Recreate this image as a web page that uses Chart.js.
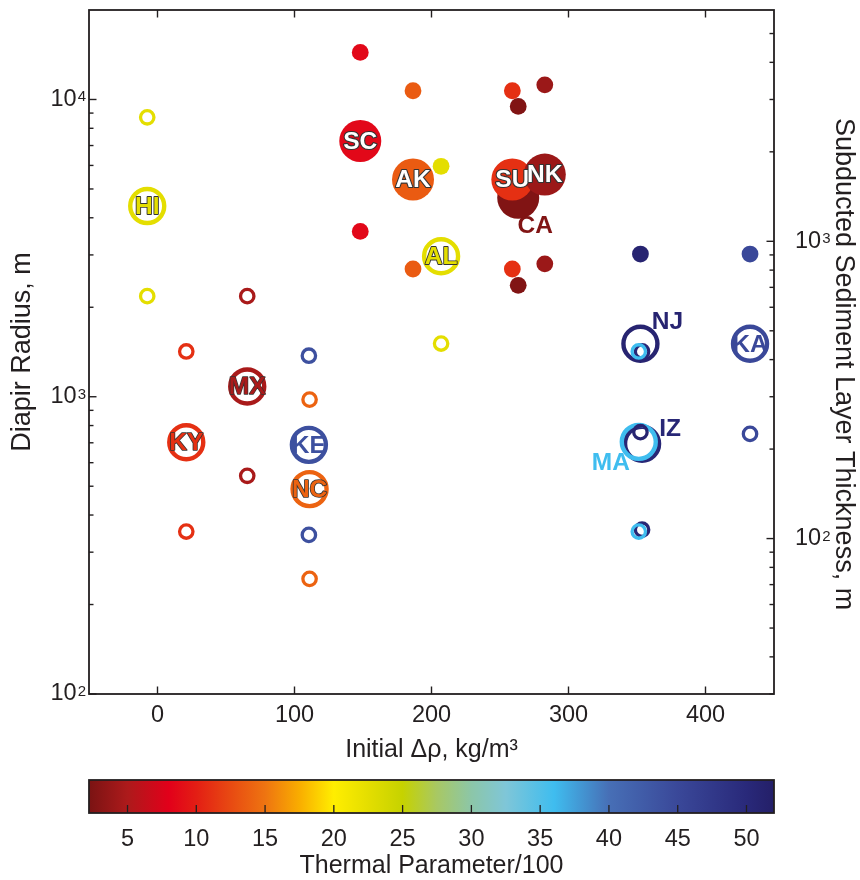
<!DOCTYPE html>
<html>
<head>
<meta charset="utf-8">
<script src="https://cdn.jsdelivr.net/npm/chart.js@4.4.1/dist/chart.umd.min.js"></script>
<style>
  html, body { margin: 0; padding: 0; background: #fff; overflow: hidden; }
  #wrap { position: relative; width: 860px; height: 880px; }
  #main { position: absolute; left: 0; top: 0; }
  #cbar { position: absolute; left: 0; top: 770px; }
</style>
</head>
<body>
<div id="wrap">
  <canvas id="main" width="860" height="770"></canvas>
  <canvas id="cbar" width="860" height="110"></canvas>
</div>
<script>
// subduction zones: initial density contrast, thermal parameter/100 and diapir radius (low / best / high)
const zones      = ['HI', 'KY', 'MX', 'KE', 'NC', 'AL', 'SC', 'AK', 'CA', 'SU', 'NK', 'NJ', 'IZ', 'MA', 'KA'];
const deltaRho   = [-7.5, 21, 65.5, 110.5, 111, 207, 148, 186.5, 263.3, 259, 282.7, 352.5, 353.7, 351.3, 432.5];
const thermal    = [22.5, 11, 4.8, 44, 14, 22.5, 8.5, 13.5, 2.6, 11, 4.0, 51, 50.5, 36, 45];
const radiusLow  = [2180, 352, 542, 343, 244, 1510, 3600, 2690, 2370, 2690, 2800, 760, 357, 352, 750];
const radiusMid  = [4380, 703, 1083, 689, 489, 2970, 7250, 5380, 4670, 5380, 5590, 1507, 695, 705, 1507];
const radiusHigh = [8710, 1420, 2180, 1374, 978, 5960, 14400, 10700, 9480, 10700, 11200, 3020, 1420, 1420, 3020];
const solidHigh  = [false, false, false, false, false, true, true, true, true, true, true, true, false, false, true];
const solidMid   = [false, false, false, false, false, false, true, true, true, true, true, false, false, false, false];

// axes
const xMin = -50, xMax = 450;
const xTicks = [0, 100, 200, 300, 400];
const radiusMin = 100, radiusMax = 20000;
const radiusTicks = [100, 1000, 10000];
const thickMin = 30, thickMax = 6000;
const thickTicks = [100, 1000];
const cbarMin = 2.2, cbarMax = 52;
const colorTicks = [5, 10, 15, 20, 25, 30, 35, 40, 45, 50];

const ink = '#231f20';
const FONT = '"Liberation Sans", Arial, Helvetica, sans-serif';

const cmapStops = [
  [2.2, '#7a1313'], [5, '#ad1a1b'], [8, '#e2001a'], [10, '#e31e14'], [12.5, '#e84a12'], [15, '#ee7411'],
  [17.5, '#f9ad00'], [20, '#ffee00'], [22.5, '#e4de00'], [25, '#c6d200'], [27.5, '#a8c864'], [30, '#8cc6a8'],
  [32.5, '#7fc6d8'], [36, '#3fbdef'], [40, '#476fb6'], [45, '#3a4899'], [50, '#29297a'], [52, '#241f68']
];

function hexRgb(h) {
  return [parseInt(h.slice(1, 3), 16), parseInt(h.slice(3, 5), 16), parseInt(h.slice(5, 7), 16)];
}

function colorFor(v) {
  if (v <= cmapStops[0][0]) return cmapStops[0][1];
  for (let i = 1; i < cmapStops.length; i++) {
    const [v1, c1] = cmapStops[i];
    if (v <= v1) {
      const [v0, c0] = cmapStops[i - 1];
      const t = (v - v0) / (v1 - v0);
      const a = hexRgb(c0), b = hexRgb(c1);
      const m = a.map((x, k) => Math.round(x + (b[k] - x) * t));
      return `rgb(${m[0]},${m[1]},${m[2]})`;
    }
  }
  return cmapStops[cmapStops.length - 1][1];
}

// build small (range) and large (best estimate) marker sets
const small = { data: [], bg: [], border: [], r: [], bw: [] };
const large = { data: [], bg: [], border: [], r: [], bw: [] };

zones.forEach((z, i) => {
  const col = colorFor(thermal[i]);
  [[radiusHigh[i], solidHigh[i]], [radiusLow[i], solidMid[i]]].forEach(([v, solid]) => {
    small.data.push({ x: deltaRho[i], y: v });
    small.bg.push(solid ? col : 'rgba(0,0,0,0)');
    small.border.push(col);
    small.r.push(solid ? 8.4 : 6.7);
    small.bw.push(solid ? 0 : 3.3);
  });
  large.data.push({ x: deltaRho[i], y: radiusMid[i] });
  large.bg.push(solidMid[i] ? col : 'rgba(0,0,0,0)');
  large.border.push(col);
  large.r.push(solidMid[i] ? 21 : 17);
  large.bw.push(solidMid[i] ? 0 : 4.4);
});

function markerSet(label, s) {
  return {
    label,
    data: s.data,
    showLine: false,
    pointStyle: 'circle',
    pointBackgroundColor: s.bg,
    pointBorderColor: s.border,
    pointRadius: s.r,
    pointHoverRadius: s.r,
    pointBorderWidth: s.bw,
    clip: false
  };
}

// label placement for zone names
const whiteText = ['SC', 'AK', 'SU', 'NK'];
const outlineWidth = { SC: 2.2, AK: 2.2, SU: 2.2, NK: 2.2, HI: 1.8, AL: 1.8, KY: 1.6, MX: 1.4, NC: 1.6 };
const labelOffset = { CA: [17, 27], NJ: [27, -23], IZ: [28, -15], MA: [-28, 20] };

const zoneLabels = {
  id: 'zoneLabels',
  afterDatasetsDraw(chart) {
    const { ctx, scales: { x, y } } = chart;
    ctx.save();
    ctx.font = `bold 24.5px ${FONT}`;
    ctx.textAlign = 'center';
    ctx.textBaseline = 'middle';
    ctx.lineJoin = 'round';
    zones.forEach((z, i) => {
      const off = labelOffset[z] || [0, 0];
      const px = x.getPixelForValue(deltaRho[i]) + off[0];
      const py = y.getPixelForValue(radiusMid[i]) + off[1] + 1;
      if (outlineWidth[z]) {
        ctx.lineWidth = outlineWidth[z];
        ctx.strokeStyle = '#333333';
        ctx.strokeText(z, px, py);
      }
      ctx.fillStyle = whiteText.includes(z) ? '#ffffff' : colorFor(thermal[i]);
      ctx.fillText(z, px, py);
    });
    ctx.restore();
  }
};

function logMarks(scale) {
  const out = [];
  const e0 = Math.floor(Math.log10(scale.min)), e1 = Math.ceil(Math.log10(scale.max));
  for (let e = e0; e <= e1; e++) {
    for (let k = 1; k <= 9; k++) {
      const v = k * Math.pow(10, e);
      if (v >= scale.min && v < scale.max) out.push({ v, major: k === 1 });
    }
  }
  return out;
}

function drawPow(ctx, exp, x, y, align) {
  ctx.font = `23.5px ${FONT}`;
  const wBase = ctx.measureText('10').width;
  ctx.font = `15px ${FONT}`;
  const wExp = ctx.measureText(String(exp)).width;
  const start = align === 'right' ? x - wBase - wExp - 1 : x;
  ctx.textAlign = 'left';
  ctx.textBaseline = 'middle';
  ctx.font = `23.5px ${FONT}`;
  ctx.fillText('10', start, y);
  ctx.textBaseline = 'alphabetic';
  ctx.font = `15px ${FONT}`;
  ctx.fillText(String(exp), start + wBase + 1, y + 2);
}

// box, inward tick marks, power-of-ten labels and the right-hand axis title
const axesBox = {
  id: 'axesBox',
  afterDraw(chart) {
    const { ctx, chartArea: a, scales } = chart;
    const seg = (x0, y0, x1, y1) => { ctx.beginPath(); ctx.moveTo(x0, y0); ctx.lineTo(x1, y1); ctx.stroke(); };
    ctx.save();
    ctx.strokeStyle = ink;
    ctx.lineWidth = 1.4;
    xTicks.forEach(v => {
      const px = scales.x.getPixelForValue(v);
      seg(px, a.bottom, px, a.bottom - 7.5);
      seg(px, a.top, px, a.top + 7.5);
    });
    logMarks(scales.y).forEach(t => {
      const py = scales.y.getPixelForValue(t.v);
      seg(a.left, py, a.left + (t.major ? 7.5 : 4.5), py);
    });
    logMarks(scales.y2).forEach(t => {
      const py = scales.y2.getPixelForValue(t.v);
      seg(a.right, py, a.right - (t.major ? 7.5 : 4.5), py);
    });
    ctx.lineWidth = 1.8;
    ctx.strokeRect(a.left, a.top, a.right - a.left, a.bottom - a.top);

    ctx.fillStyle = ink;
    radiusTicks.forEach(v => drawPow(ctx, Math.round(Math.log10(v)), a.left - 3, scales.y.getPixelForValue(v), 'right'));
    thickTicks.forEach(v => drawPow(ctx, Math.round(Math.log10(v)), a.right + 21, scales.y2.getPixelForValue(v), 'left'));

    ctx.translate(843, (a.top + a.bottom) / 2 + 12);
    ctx.rotate(Math.PI / 2);
    ctx.font = `27px ${FONT}`;
    ctx.textAlign = 'center';
    ctx.textBaseline = 'middle';
    ctx.fillText('Subducted Sediment Layer Thickness, m', 0, 0);
    ctx.restore();
  }
};

const titleFont = { family: FONT, size: 25, lineHeight: 1 };
const yTitleFont = { family: FONT, size: 27, lineHeight: 1 };
const tickFont = { family: FONT, size: 23.5, lineHeight: 1 };

new Chart(document.getElementById('main'), {
  type: 'scatter',
  data: { datasets: [markerSet('range', small), markerSet('best', large)] },
  options: {
    responsive: false,
    animation: false,
    events: [],
    layout: { autoPadding: false, padding: { top: 10, left: 0, right: 0, bottom: 0 } },
    plugins: { legend: { display: false }, tooltip: { enabled: false } },
    scales: {
      x: {
        type: 'linear', position: 'bottom', min: xMin, max: xMax,
        afterBuildTicks: s => { s.ticks = xTicks.map(v => ({ value: v })); },
        afterFit: s => { s.height = 76; },
        grid: { display: false }, border: { display: false },
        ticks: { color: ink, font: tickFont, padding: 1.5, maxRotation: 0 },
        title: { display: true, text: 'Initial Δρ, kg/m³', color: ink, font: titleFont, padding: { top: 7.5, bottom: 7.5 } }
      },
      y: {
        type: 'logarithmic', position: 'left', min: radiusMin, max: radiusMax,
        afterFit: s => { s.width = 89; },
        grid: { display: false }, border: { display: false },
        ticks: { display: false },
        title: { display: true, text: 'Diapir Radius, m', color: ink, font: yTitleFont, padding: { top: 9.5, bottom: 9.5 } }
      },
      y2: {
        type: 'logarithmic', position: 'right', min: thickMin, max: thickMax,
        afterFit: s => { s.width = 86; },
        grid: { display: false }, border: { display: false },
        ticks: { display: false },
        title: { display: false }
      }
    }
  },
  plugins: [zoneLabels, axesBox]
});

// colour bar for the thermal parameter
const colorbar = {
  id: 'colorbar',
  beforeDatasetsDraw(chart) {
    const { ctx, chartArea: a, scales: { x } } = chart;
    const g = ctx.createLinearGradient(a.left, 0, a.right, 0);
    cmapStops.forEach(([v, c]) => {
      const t = (x.getPixelForValue(v) - a.left) / (a.right - a.left);
      g.addColorStop(Math.min(1, Math.max(0, t)), c);
    });
    ctx.save();
    ctx.fillStyle = g;
    ctx.fillRect(a.left, a.top, a.right - a.left, a.bottom - a.top);
    ctx.strokeStyle = ink;
    ctx.lineWidth = 1.3;
    colorTicks.forEach(v => {
      const px = x.getPixelForValue(v);
      ctx.beginPath(); ctx.moveTo(px, a.bottom); ctx.lineTo(px, a.bottom - 8); ctx.stroke();
    });
    ctx.lineWidth = 1.8;
    ctx.strokeRect(a.left, a.top, a.right - a.left, a.bottom - a.top);
    ctx.restore();
  }
};

new Chart(document.getElementById('cbar'), {
  type: 'scatter',
  data: { datasets: [] },
  options: {
    responsive: false,
    animation: false,
    events: [],
    layout: { autoPadding: false, padding: { top: 10, left: 89, right: 86, bottom: 0 } },
    plugins: { legend: { display: false }, tooltip: { enabled: false } },
    scales: {
      x: {
        type: 'linear', position: 'bottom', min: cbarMin, max: cbarMax,
        afterBuildTicks: s => { s.ticks = colorTicks.map(v => ({ value: v })); },
        afterFit: s => { s.height = 67; },
        grid: { display: false }, border: { display: false },
        ticks: { color: ink, font: tickFont, padding: 7, maxRotation: 0 },
        title: { display: true, text: 'Thermal Parameter/100', color: ink, font: titleFont, padding: { top: 1.5, bottom: 1.5 } }
      },
      y: { display: false, min: 0, max: 1 }
    }
  },
  plugins: [colorbar]
});
</script>
</body>
</html>
